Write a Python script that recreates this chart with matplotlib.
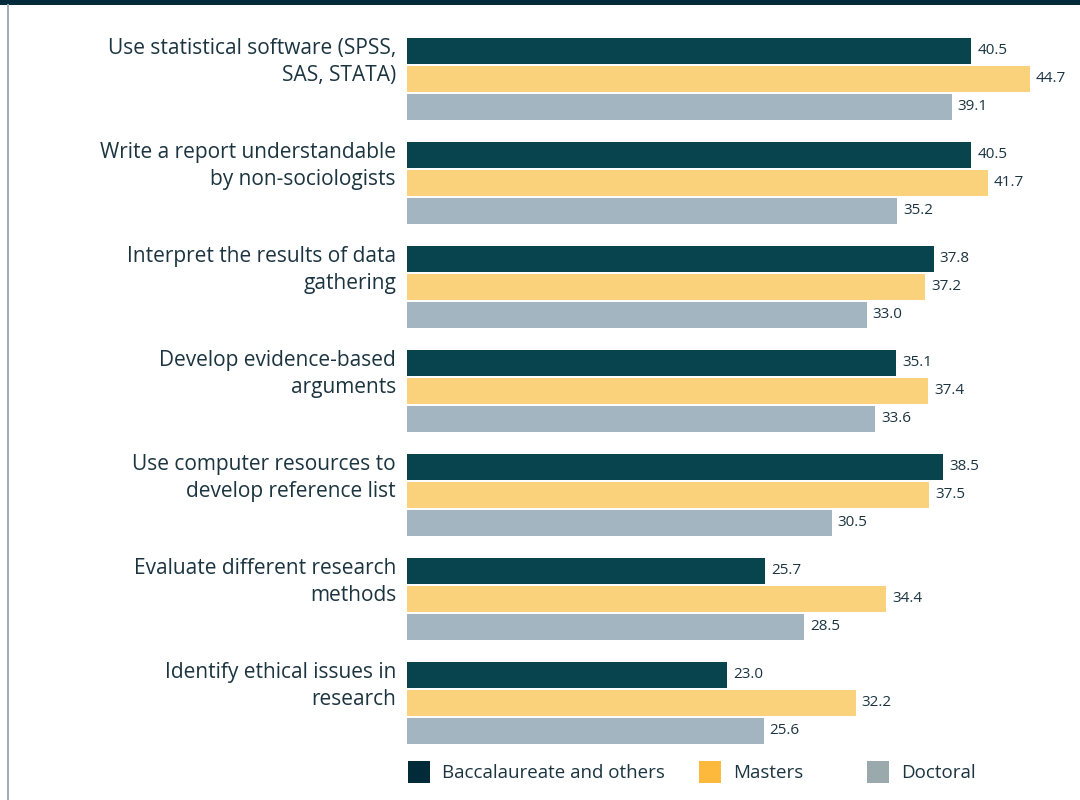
import matplotlib.pyplot as plt
from matplotlib.patches import Rectangle
from matplotlib.lines import Line2D

plt.rcParams['font.family'] = ['Open Sans', 'DejaVu Sans']

# share of departments reporting each skill, by highest degree offered
skills = [
    "Use statistical software (SPSS,\nSAS, STATA)",
    "Write a report understandable\nby non-sociologists",
    "Interpret the results of data\ngathering",
    "Develop evidence-based\narguments",
    "Use computer resources to\ndevelop reference list",
    "Evaluate different research\nmethods",
    "Identify ethical issues in\nresearch",
]
baccalaureate = [40.5, 40.5, 37.8, 35.1, 38.5, 25.7, 23.0]
masters = [44.7, 41.7, 37.2, 37.4, 37.5, 34.4, 32.2]
doctoral = [39.1, 35.2, 33.0, 33.6, 30.5, 28.5, 25.6]
series_names = ["Baccalaureate and others", "Masters", "Doctoral"]

bar_colors = ['#08444d', '#fad27b', '#a2b5c0']
key_colors = ['#022b3a', '#fdb93b', '#9aa9ac']
text_color = '#1b3440'

W, H = 1080, 800
fig = plt.figure(figsize=(W / 100, H / 100), dpi=100)

# axes spans full height; x zero sits at the bar baseline
x0 = 407
px_per_unit = 13.93
ax = fig.add_axes([x0 / W, 0, (W - x0) / W, 1])
ax.set_xlim(0, (W - x0) / px_per_unit)
group_px = 104.0
first_center = 79.0
ax.set_ylim((H - first_center) / group_px, -first_center / group_px)
ax.axis('off')

bar_h = 26 / group_px
step = 28 / group_px
for k, vals in enumerate([baccalaureate, masters, doctoral]):
    ys = [i + (k - 1) * step for i in range(len(skills))]
    ax.barh(ys, vals, height=bar_h, color=bar_colors[k], linewidth=0)
    for y, v in zip(ys, vals):
        ax.annotate(f"{v:.1f}", xy=(v, y), xytext=(6, 0),
                    textcoords='offset pixels', va='center', ha='left',
                    fontsize=11, color=text_color)

# category labels, top aligned with the first bar of each group
for i, s in enumerate(skills):
    ax.annotate(s, xy=(0, i - step - bar_h / 2), xytext=(-11, 0),
                textcoords='offset pixels', ha='right', va='top',
                fontsize=15, color=text_color, linespacing=1.36,
                multialignment='right')

# top band and left rule
fig.add_artist(Rectangle((0, 1 - 5 / H), 1, 5 / H, transform=fig.transFigure,
                         color='#012b3a', lw=0))
fig.add_artist(Line2D([7.5 / W, 7.5 / W], [0, 1 - 5 / H], transform=fig.transFigure,
                      color='#a5adb1', lw=1.5))

# legend
key_x = [408, 699, 867]
for name, c, kx in zip(series_names, key_colors, key_x):
    fig.add_artist(Rectangle((kx / W, 1 - 783 / H), 22 / W, 22 / H,
                             transform=fig.transFigure, color=c, lw=0))
    fig.text((kx + 34) / W, 1 - 773 / H, name, ha='left', va='center',
             fontsize=13.5, color=text_color)

fig.savefig('out.png', dpi=100)
